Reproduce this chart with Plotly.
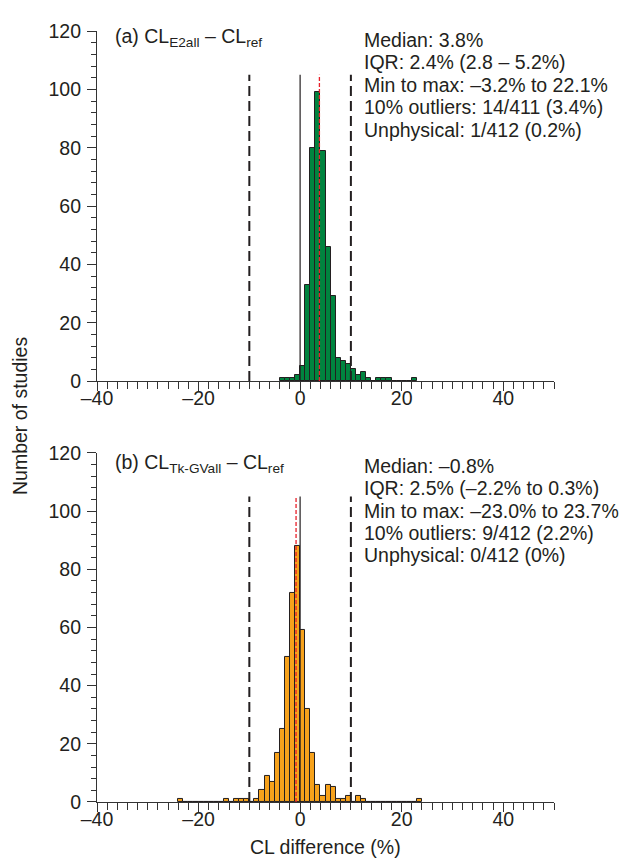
import plotly.graph_objects as go

# ---------------- data ----------------
bins_a = list(range(-4, 23))
counts_a = [1, 1, 1, 2, 5, 33, 80, 99, 79, 46, 29, 8, 7, 6, 4, 2, 3, 1, 0, 1, 1, 1, 0, 0, 0, 0, 1]

bins_b = list(range(-24, 24))
counts_b = [1, 0, 0, 0, 0, 0, 0, 0, 0, 1, 0, 1, 1, 1, 0, 1, 4, 9, 7, 17, 25, 50, 72, 88,
            59, 32, 17, 6, 2, 6, 5, 1, 1, 2, 0, 2, 1, 0, 0, 0, 0, 0, 0, 0, 0, 0, 0, 1]

thresholds = [-10, 10]
zero_line = 0
medians = [3.8, -0.8]
line_top = 105

x_tick_vals = [-40, -20, 0, 20, 40]
x_tick_text = ["\u201340", "\u201320", "0", "20", "40"]
y_tick_vals = [0, 20, 40, 60, 80, 100, 120]

panel_labels = ["(a) CL<sub>E2all</sub> \u2013 CL<sub>ref</sub>",
                "(b) CL<sub>Tk-GVall</sub> \u2013 CL<sub>ref</sub>"]
stats_a = ["Median: 3.8%",
           "IQR: 2.4% (2.8 \u2013 5.2%)",
           "Min to max: \u20133.2% to 22.1%",
           "10% outliers: 14/411 (3.4%)",
           "Unphysical: 1/412 (0.2%)"]
stats_b = ["Median: \u20130.8%",
           "IQR: 2.5% (\u20132.2% to 0.3%)",
           "Min to max: \u201323.0% to 23.7%",
           "10% outliers: 9/412 (2.2%)",
           "Unphysical: 0/412 (0%)"]

# ---------------- figure ----------------
FONT = "Liberation Sans, Arial, sans-serif"
TXT = "#231f20"
GREEN = "#00843f"
ORANGE = "#f7a21b"
FS = 19.5

fig = go.Figure()
fig.add_trace(go.Bar(x=bins_a, y=counts_a, width=1, offset=0,
                     marker=dict(color=GREEN, line=dict(color="#231f20", width=1)),
                     xaxis="x", yaxis="y", showlegend=False))
fig.add_trace(go.Bar(x=bins_b, y=counts_b, width=1, offset=0,
                     marker=dict(color=ORANGE, line=dict(color="#231f20", width=1)),
                     xaxis="x2", yaxis="y2", showlegend=False))

xax = dict(range=[-40, 50], showline=True, linecolor="#333", linewidth=1.2,
           ticks="outside", ticklen=9, tickcolor="#333", tickwidth=1.2,
           tickmode="array", tickvals=x_tick_vals, ticktext=x_tick_text,
           ticklabelstandoff=-10,
           minor=dict(tickmode="linear", tick0=-40, dtick=2, ticks="outside",
                      ticklen=7, tickcolor="#333", tickwidth=1.2),
           showgrid=False, zeroline=False, fixedrange=True,
           tickfont=dict(size=FS, color=TXT, family=FONT))
yax = dict(range=[0, 120], showline=True, linecolor="#333", linewidth=1.2,
           ticks="outside", ticklen=9, tickcolor="#333", tickwidth=1.2,
           tickmode="array", tickvals=y_tick_vals, ticklabelstandoff=2,
           minor=dict(tickmode="linear", tick0=0, dtick=4, ticks="outside",
                      ticklen=5, tickcolor="#333", tickwidth=1.2),
           showgrid=False, zeroline=False, fixedrange=True,
           tickfont=dict(size=FS, color=TXT, family=FONT))

fig.update_layout(
    width=625, height=858,
    margin=dict(l=89, r=79, t=15, b=64),
    paper_bgcolor="white", plot_bgcolor="white",
    font=dict(family=FONT, color=TXT, size=FS),
    bargap=0,
    xaxis=dict(xax, anchor="y"),
    yaxis=dict(yax, domain=[0.546, 1.0], anchor="x"),
    xaxis2=dict(xax, anchor="y2"),
    yaxis2=dict(yax, domain=[0.0, 0.4527], anchor="x2"),
)

shapes = []
for xr, yr in [("x", "y"), ("x2", "y2")]:
    for t in thresholds:
        shapes.append(dict(type="line", xref=xr, yref=yr, x0=t, x1=t, y0=0, y1=line_top,
                           line=dict(color="#231f20", width=2, dash="10px,5px")))
    shapes.append(dict(type="line", xref=xr, yref=yr, x0=zero_line, x1=zero_line, y0=0, y1=line_top,
                       line=dict(color="#231f20", width=1.2)))
for (xr, yr), m in zip([("x", "y"), ("x2", "y2")], medians):
    shapes.append(dict(type="line", xref=xr, yref=yr, x0=m, x1=m, y0=0, y1=line_top,
                       line=dict(color="#e8202a", width=1.3, dash="4px,2px")))
fig.update_layout(shapes=shapes)

ann = []
label_pos = [("x", "y domain", 0.981), ("x2", "y2 domain", 0.9697)]
for (xr, yr, yy), lab in zip(label_pos, panel_labels):
    ann.append(dict(text=lab, xref=xr, yref=yr, x=-36.8, y=yy, xanchor="left", yanchor="middle",
                    showarrow=False, font=dict(size=FS, color=TXT, family=FONT)))
stat_pos = [("x", "y domain", 0.9745, stats_a), ("x2", "y2 domain", 0.963, stats_b)]
for xr, yr, y0, lines in stat_pos:
    for i, s in enumerate(lines):
        ann.append(dict(text=s, xref=xr, yref=yr, x=12.2, y=y0 - i * 22.6 / 353.0,
                        xanchor="left", yanchor="middle", showarrow=False,
                        font=dict(size=FS, color=TXT, family=FONT)))
ann.append(dict(text="CL difference (%)", xref="paper", yref="paper", x=0.5, y=-0.058,
                xanchor="center", yanchor="middle", showarrow=False,
                font=dict(size=FS, color=TXT, family=FONT)))
ann.append(dict(text="Number of studies", xref="paper", yref="paper", x=-0.1685, y=0.5006,
                xanchor="center", yanchor="middle", textangle=-90, showarrow=False,
                font=dict(size=FS, color=TXT, family=FONT)))
fig.update_layout(annotations=ann)

fig.write_html("out.html")
